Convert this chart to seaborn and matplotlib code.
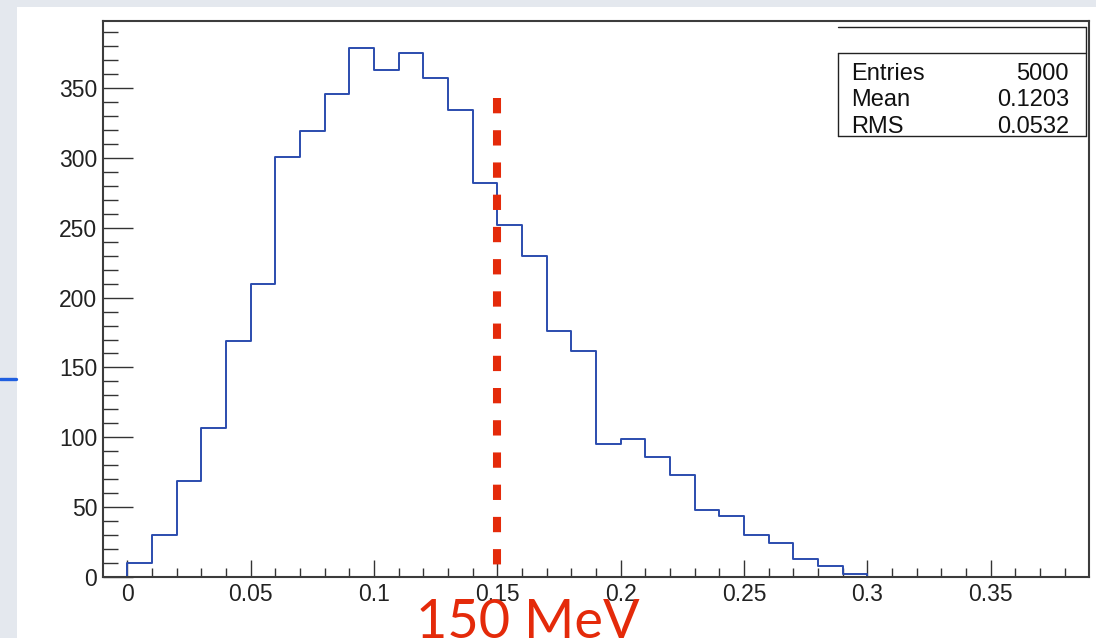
import numpy as np
import pandas as pd
import matplotlib.pyplot as plt
import seaborn as sns
from matplotlib.lines import Line2D
from matplotlib.patches import Rectangle

# bin contents, width 0.01, first bin starts at -0.01 (empty), last at 0.30 (empty)
bin_width = 0.01
bin_start = -0.01
counts = [0, 10, 30, 69, 107, 169, 210, 301, 319, 346, 379,
          363, 375, 357, 334, 282, 252, 230, 176, 162, 95,
          99, 86, 73, 48, 44, 30, 24, 13, 8, 2, 0]

x_ticks = [0, 0.05, 0.1, 0.15, 0.2, 0.25, 0.3, 0.35]
x_ticklabels = ["0", "0.05", "0.1", "0.15", "0.2", "0.25", "0.3", "0.35"]
y_ticks = [0, 50, 100, 150, 200, 250, 300, 350]

stats_names = ["Entries", "Mean", "RMS"]
stats_values = ["5000", "0.1203", "0.0532"]

cut_value = 0.15
cut_label = "150 MeV"

sns.set_style("ticks")
plt.rcParams["font.family"] = ["Liberation Sans", "DejaVu Sans"]

fig = plt.figure(figsize=(10.96, 6.38), dpi=100)
fig.patch.set_facecolor("#e4e8ee")
fig.add_artist(Rectangle((17 / 1096, 0), 1, 631 / 638, transform=fig.transFigure,
                         facecolor="white", edgecolor="none", zorder=-2))
fig.add_artist(Line2D([0, 16 / 1096], [0.406, 0.406], transform=fig.transFigure,
                      color="#1f5fe0", lw=2.4, zorder=-1))

ax = fig.add_axes([102.8 / 1096, 1 - 577 / 638, 986.4 / 1096, 556 / 638])
ax.set_facecolor("white")

n_bins = len(counts)
df = pd.DataFrame({"energy": bin_start + bin_width * (np.arange(n_bins) + 0.5),
                   "count": counts})
sns.histplot(data=df, x="energy", weights="count", bins=n_bins,
             binrange=(bin_start, bin_start + n_bins * bin_width), element="step",
             fill=False, color="#2b4cae", linewidth=1.4, ax=ax)

# cut line, drawn from the top so the dash pattern starts there
ax.plot([cut_value, cut_value], [343, 0], color="#e42a0a", lw=5.8,
        dashes=(1.9, 2.1), solid_capstyle="butt", zorder=5)

ax.set_xlim(-0.01, 0.39)
ax.set_ylim(0, 398)
ax.set_xticks(x_ticks)
ax.set_xticklabels(x_ticklabels)
ax.set_xticks(np.arange(1, 39) * 0.01, minor=True)
ax.set_yticks(y_ticks)
ax.set_yticks(np.arange(1, 40) * 10, minor=True)
ax.set_xlabel("")
ax.set_ylabel("")

ax.tick_params(axis="both", which="both", direction="in", colors="#333333",
               labelcolor="#222222", width=1.0, labelsize=16.5, pad=4)
ax.tick_params(axis="y", which="major", length=21.6)
ax.tick_params(axis="y", which="minor", length=10.8)
ax.tick_params(axis="x", which="major", length=12)
ax.tick_params(axis="x", which="minor", length=6.2)
ax.tick_params(top=False, right=False, which="both")
for s in ax.spines.values():
    s.set_visible(True)
    s.set_color("#3c3c3c")
    s.set_linewidth(1.5)
    s.set_zorder(6)

# stats box
bx0, bx1 = 0.7453, 0.9968
by_top, by_div, by_bot = 0.9892, 0.9424, 0.7932
box_kw = dict(transform=ax.transAxes, color="#222222", lw=1.0, clip_on=False)
ax.plot([bx0, bx1], [by_top, by_top], **box_kw)
ax.plot([bx1, bx1], [by_top, by_bot], **box_kw)
ax.plot([bx0, bx1], [by_div, by_div], **box_kw)
ax.plot([bx0, bx0], [by_div, by_bot], **box_kw)
ax.plot([bx0, bx1], [by_bot, by_bot], **box_kw)
for name, val, yb in zip(stats_names, stats_values, [0.8940, 0.8471, 0.7986]):
    ax.text(0.7585, yb, name, transform=ax.transAxes, ha="left", va="baseline",
            fontsize=17, color="#111111")
    ax.text(0.9795, yb, val, transform=ax.transAxes, ha="right", va="baseline",
            fontsize=17, color="#111111")

fig.text(527.5 / 1096, 0.0, cut_label, ha="center", va="baseline",
         fontsize=39, color="#e42a0a", family=["Lato", "DejaVu Sans"], zorder=10)

fig.savefig("out.png", dpi=100, facecolor=fig.get_facecolor())
